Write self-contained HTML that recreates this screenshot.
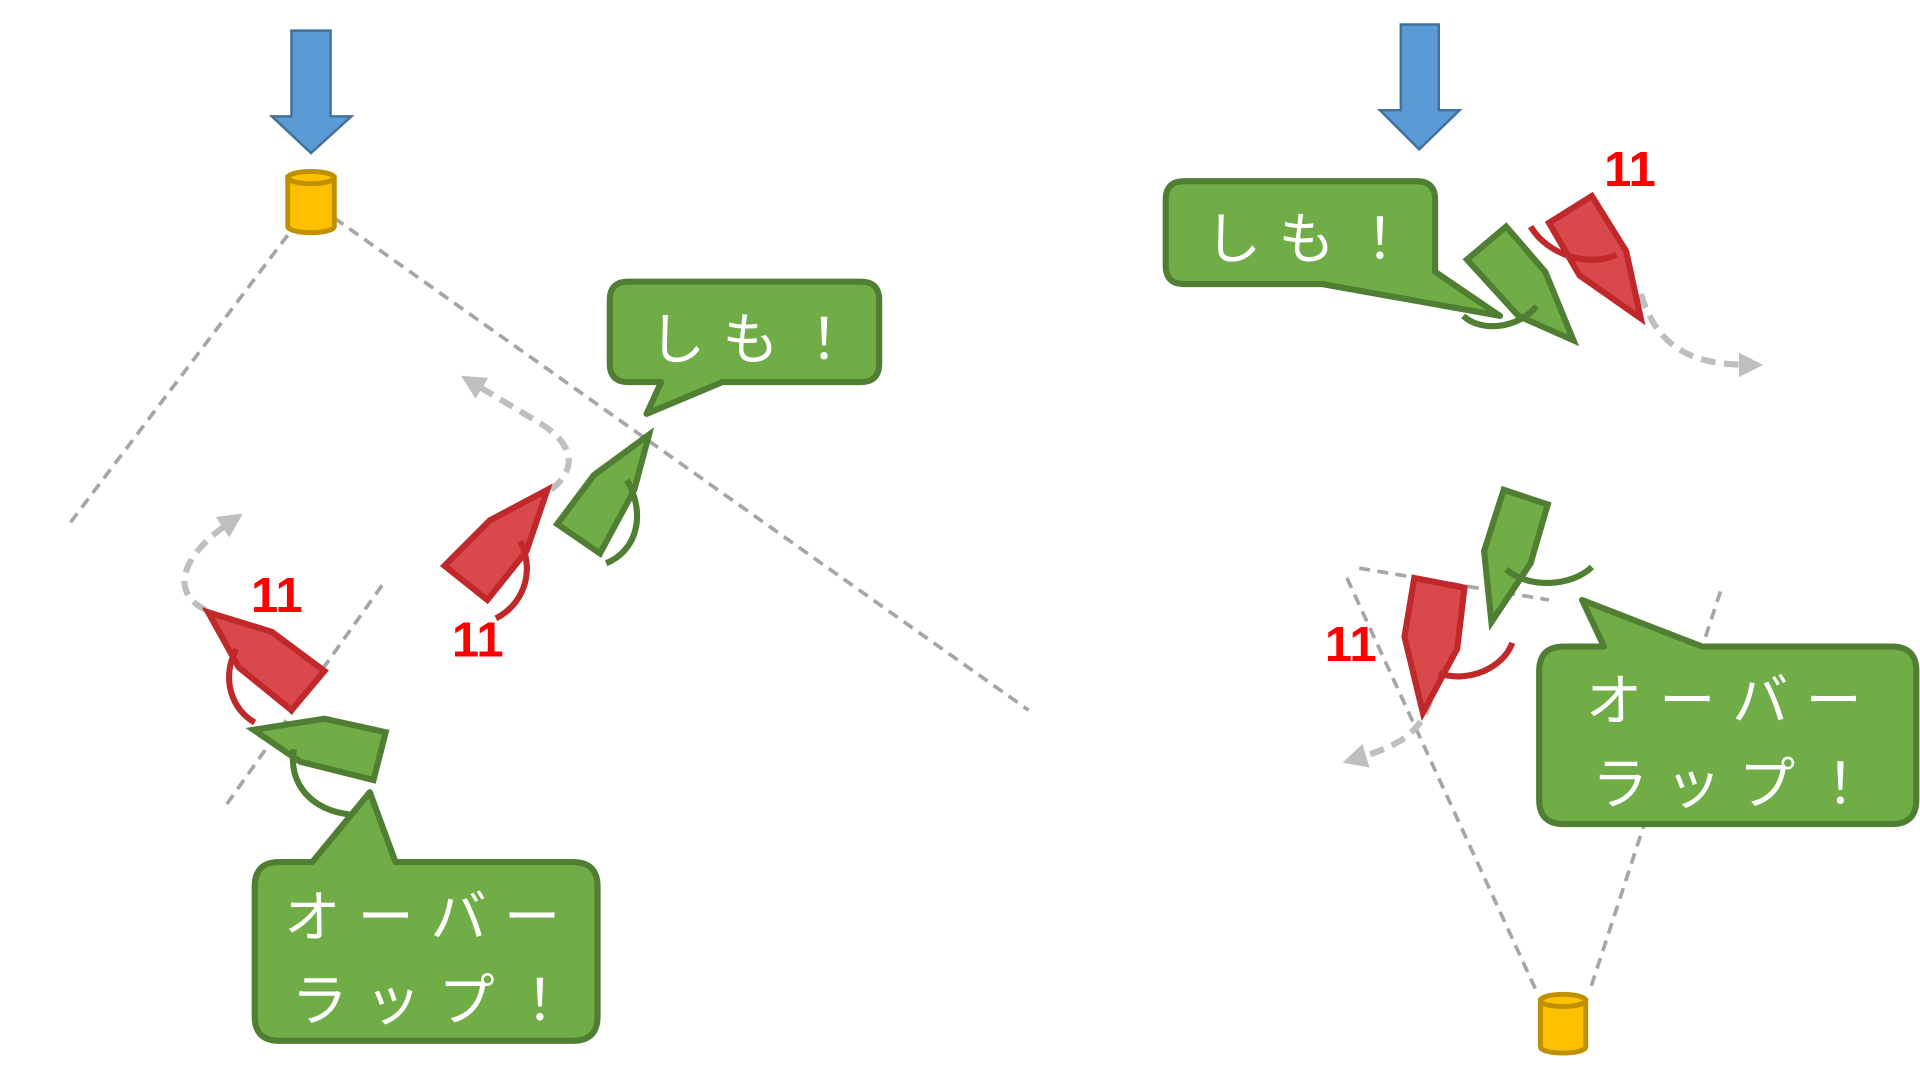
<!DOCTYPE html>
<html><head><meta charset="utf-8"><style>
html,body{margin:0;padding:0;background:#fff;width:1920px;height:1080px;overflow:hidden}
svg{display:block}
text{font-family:"Liberation Sans","Noto Sans CJK JP",sans-serif}
.jp{fill:#fff;font-size:46px;font-family:"Noto Sans CJK JP","WenQuanYi Zen Hei",sans-serif;letter-spacing:14px}
.num{fill:#f00;font-size:40px;font-weight:bold}
</style></head><body>
<svg width="1920" height="1080" viewBox="0 0 1568 882" xmlns="http://www.w3.org/2000/svg">
<defs>
<marker id="ah" viewBox="0 0 10 10" refX="5" refY="5" markerWidth="4" markerHeight="4" orient="auto"><path d="M0,0 L10,5 L0,10 z" fill="#bfbfbf"/></marker>
</defs>
<g stroke="#a6a6a6" stroke-width="3" stroke-dasharray="9,6" fill="none">
<line x1="235" y1="192" x2="55" y2="430"/>
<line x1="273" y1="178" x2="840" y2="580"/>
<line x1="312" y1="478" x2="185" y2="657"/>
<line x1="1110" y1="464" x2="1265" y2="490"/>
<line x1="1100" y1="472" x2="1255" y2="810"/>
<line x1="1405" y1="483" x2="1298" y2="810"/>
</g>
<g stroke="#bfbfbf" stroke-width="5" stroke-dasharray="12,7" fill="none" marker-end="url(#ah)">
<path d="M450,400 C475,380 465,360 440,345 L385,312"/>
<path d="M168,498 C140,485 145,455 190,425"/>
<path d="M1340,240 C1355,290 1390,298 1430,298"/>
<path d="M1168,572 C1160,600 1140,610 1106,620"/>
</g>
<path d="M238,25 H270 V95 H287 L254,125 L222,95 H238 Z" fill="#5b9bd5" stroke="#41719c" stroke-width="2"/>
<path d="M1144,20 H1175 V90 H1192 L1159,122 L1127,90 H1144 Z" fill="#5b9bd5" stroke="#41719c" stroke-width="2"/>
<g fill="#ffc000" stroke="#bf9000" stroke-width="4">
<path d="M235,145 V185 A19,5 0 0 0 273,185 V145 Z"/><ellipse cx="254" cy="145" rx="19" ry="5"/>
<path d="M1258,817 V855 A18.5,5 0 0 0 1295,855 V817 Z"/><ellipse cx="1276.5" cy="817" rx="18.5" ry="5"/>
</g>
<g stroke-width="5" stroke-linejoin="miter">
<g fill="#70ad47" stroke="#507e32">
<polygon points="530,355 518,400 490,452 455,428 485,388"/>
<polygon points="207,596 265,587 315,598 305,637 245,622"/>
<polygon points="1198,212 1230,185 1262,222 1285,278 1240,258"/>
<polygon points="1228,400 1264,412 1250,460 1218,508 1212,450"/>
</g>
<g fill="#d9484a" stroke="#c0282a">
<polygon points="447,400 430,450 398,490 363,462 400,425"/>
<polygon points="170,500 222,516 265,548 238,580 195,545"/>
<polygon points="1265,182 1300,160 1328,205 1340,260 1290,225"/>
<polygon points="1155,472 1196,480 1190,530 1162,582 1147,520"/>
</g>
</g>
<g fill="none" stroke-width="5">
<g stroke="#507e32">
<path d="M512,392 C528,420 520,450 495,460"/>
<path d="M240,612 C235,640 255,662 285,665"/>
<path d="M1195,258 C1210,272 1240,268 1255,250"/>
<path d="M1230,465 C1250,482 1285,478 1300,463"/>
</g>
<g stroke="#c0282a">
<path d="M425,442 C438,470 425,495 405,505"/>
<path d="M193,530 C180,555 190,580 208,590"/>
<path d="M1250,185 C1265,210 1300,218 1320,208"/>
<path d="M1175,550 C1200,558 1228,545 1235,525"/>
</g>
</g>
<g fill="#70ad47" stroke="#507e32" stroke-width="5" stroke-linejoin="round">
<path d="M513,230 H703 Q718,230 718,245 V297 Q718,312 703,312 H590 L528,338 L540,312 H513 Q498,312 498,297 V245 Q498,230 513,230 Z"/>
<path d="M967,148 H1157 Q1172,148 1172,163 V222 L1225,258 L1080,232 H967 Q952,232 952,217 V163 Q952,148 967,148 Z"/>
<path d="M228,704 H255 L302,647 L323,704 H468 Q488,704 488,724 V830 Q488,850 468,850 H228 Q208,850 208,830 V724 Q208,704 228,704 Z"/>
<path d="M1277,528 H1310 L1292,490 L1390,528 H1545 Q1565,528 1565,548 V653 Q1565,673 1545,673 H1277 Q1257,673 1257,653 V548 Q1257,528 1277,528 Z"/>
</g>
<text class="jp" x="530" y="293">しも！</text>
<text class="jp" x="984" y="211">しも！</text>
<text class="jp" x="232" y="765">オーバー</text>
<text class="jp" x="238" y="833">ラップ！</text>
<text class="jp" x="1295" y="588">オーバー</text>
<text class="jp" x="1300" y="656">ラップ！</text>
<text class="num" x="369" y="536">11</text>
<text class="num" x="205" y="500">11</text>
<text class="num" x="1310" y="152">11</text>
<text class="num" x="1082" y="540">11</text>
</svg>
</body></html>
